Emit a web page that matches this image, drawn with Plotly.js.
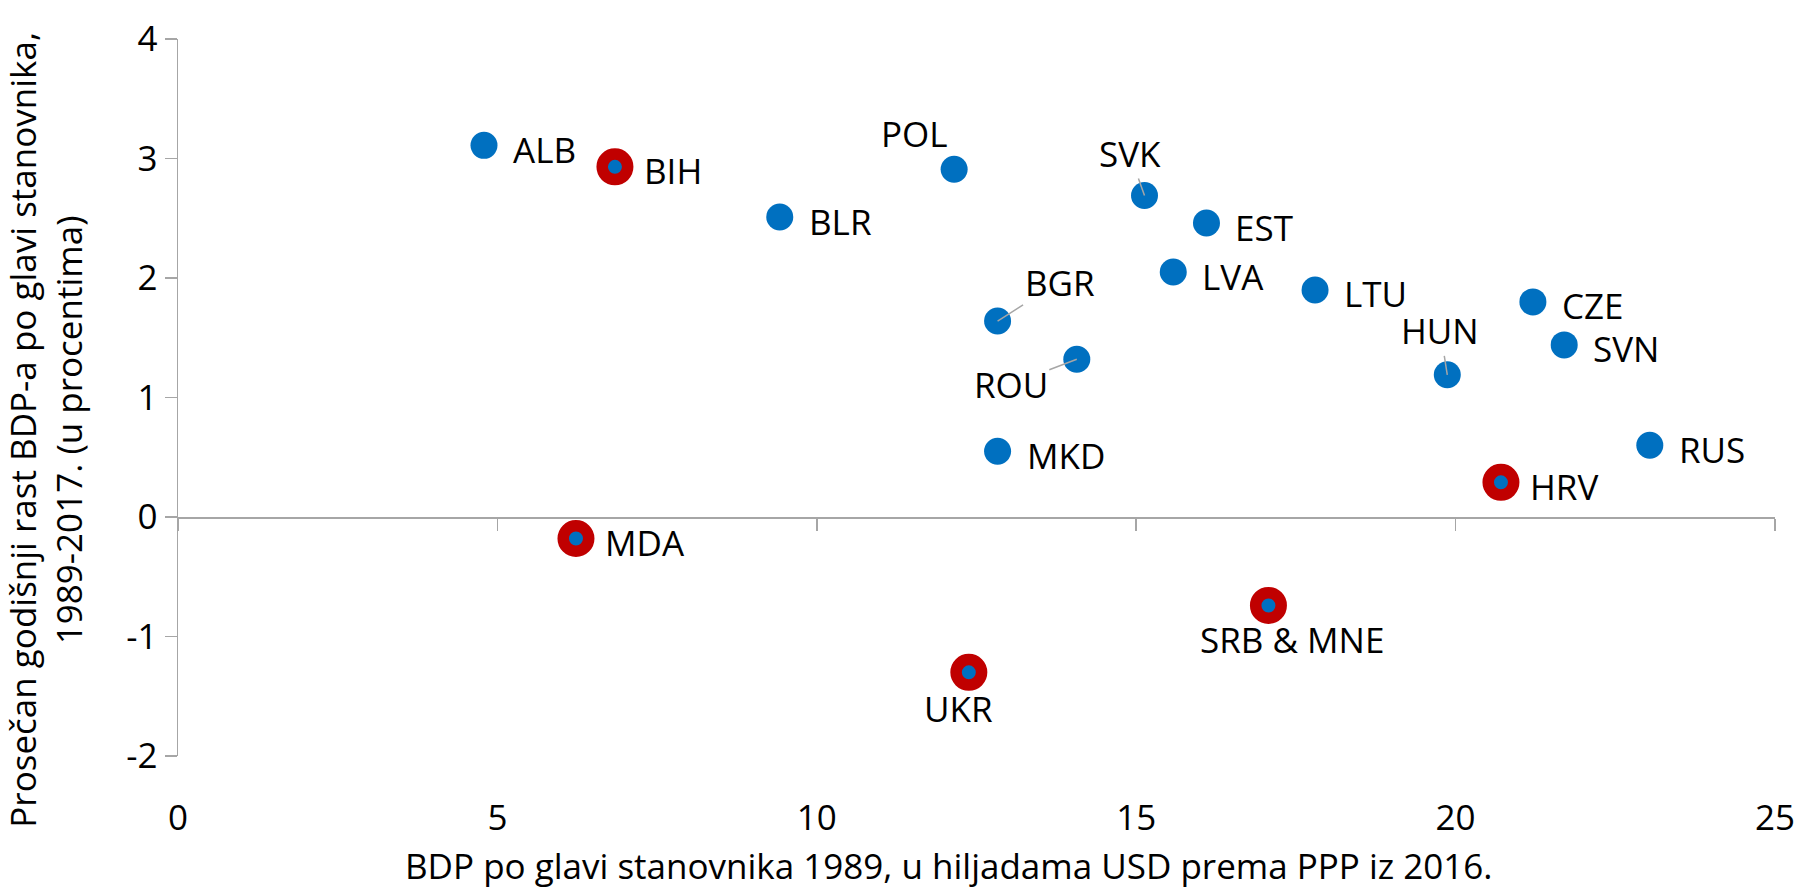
<!DOCTYPE html>
<html>
<head>
<meta charset="utf-8">
<script src="https://cdn.plot.ly/plotly-3.0.1.min.js"></script>
<style>html,body{margin:0;padding:0;background:#fff}#chart{width:1798px;height:892px}</style>
</head>
<body>
<div id="chart"></div>
<script>
// ---- data ----
const countries = ["ALB","BIH","POL","BLR","SVK","EST","LVA","LTU","CZE","SVN","BGR","ROU","HUN","MKD","RUS","HRV","MDA","SRB & MNE","UKR"];
const gdp1989   = [4.79, 6.84, 12.15, 9.42, 15.13, 16.10, 15.58, 17.80, 21.21, 21.70, 12.83, 14.07, 19.87, 12.83, 23.04, 20.71, 6.23, 17.07, 12.38];
const growth    = [3.11, 2.93, 2.91, 2.51, 2.69, 2.46, 2.05, 1.90, 1.80, 1.44, 1.64, 1.32, 1.19, 0.55, 0.60, 0.29, -0.18, -0.74, -1.30];
const highlighted = ["BIH","HRV","MDA","SRB & MNE","UKR"];
const xTickVals = [0, 5, 10, 15, 20, 25];
const yTickVals = [-2, -1, 0, 1, 2, 3, 4];
const xTitle = "BDP po glavi stanovnika 1989, u hiljadama USD prema PPP iz 2016.";
const yTitle = "Prosečan godišnji rast BDP-a po glavi stanovnika,<br>1989-2017. (u procentima)";

// ---- label placement (pixels, style only) ----
const labelPlace = {
  "POL": {type:"c", dx:-40, dy:-36},
  "SVK": {type:"a", dx:-15, dy:-42},
  "BGR": {type:"a", dx:62, dy:-39},
  "ROU": {type:"a", dx:-66, dy:25},
  "HUN": {type:"a", dx:-7, dy:-44},
  "SRB & MNE": {type:"c", dx:24, dy:34},
  "UKR": {type:"c", dx:-10, dy:36}
};

const BLUE = "#0070C0", RED = "#C00000", AXIS = "#A6A6A6";
const FONT = "Open Sans, Noto Sans, sans-serif";
const FS = 35;

const nx = [], ny = [], hx = [], hy = [];
countries.forEach((c, i) => {
  if (highlighted.includes(c)) { hx.push(gdp1989[i]); hy.push(growth[i]); }
  else { nx.push(gdp1989[i]); ny.push(growth[i]); }
});

const traces = [
  {x: nx, y: ny, type: "scatter", mode: "markers", xaxis: "x", yaxis: "y",
   marker: {color: BLUE, size: 27, line: {width: 0}}, hoverinfo: "skip"},
  {x: hx, y: hy, type: "scatter", mode: "markers", xaxis: "x2", yaxis: "y",
   marker: {color: BLUE, size: 25.5, line: {color: RED, width: 11.5}}, hoverinfo: "skip"}
];

const annotations = countries.map((c, i) => {
  const p = labelPlace[c];
  const base = {x: gdp1989[i], y: growth[i], xref: "x", yref: "y", text: c,
    font: {family: FONT, size: FS, color: "#000"}};
  if (!p) {
    return Object.assign(base, {showarrow: false, xanchor: "left", yanchor: "middle", xshift: 27, yshift: -4});
  }
  if (p.type === "c") {
    return Object.assign(base, {showarrow: false, xanchor: "center", yanchor: "middle", xshift: p.dx, yshift: -p.dy});
  }
  return Object.assign(base, {showarrow: true, arrowhead: 0, arrowwidth: 1.5, arrowcolor: AXIS,
    ax: p.dx, ay: p.dy, standoff: 0, startstandoff: 0});
});

annotations.push({xref: "paper", yref: "paper", x: 0.483, y: -0.1534, xanchor: "center", yanchor: "middle",
  text: xTitle, showarrow: false, font: {family: FONT, size: FS, color: "#000"}});
annotations.push({xref: "paper", yref: "paper", x: -0.0827, y: 0.455, xanchor: "center", yanchor: "middle",
  text: yTitle, textangle: -90, showarrow: false, font: {family: FONT, size: FS, color: "#000"}});

const layout = {
  width: 1798, height: 892,
  margin: {l: 178, r: 23, t: 39, b: 136},
  paper_bgcolor: "#fff", plot_bgcolor: "#fff",
  showlegend: false, hovermode: false,
  font: {family: FONT, size: FS, color: "#000"},
  xaxis: {range: [0, 25], tickvals: xTickVals, ticktext: xTickVals.map(String),
    showline: false, showgrid: false, zeroline: false, ticks: "",
    ticklabelstandoff: 38, tickfont: {family: FONT, size: FS, color: "#000"}, fixedrange: true},
  xaxis2: {range: [0, 25], tickvals: xTickVals, overlaying: "x", anchor: "free", position: 1/3, side: "bottom",
    showline: true, linecolor: AXIS, linewidth: 1.5, ticks: "outside", ticklen: 12, tickwidth: 1.5, tickcolor: AXIS,
    showticklabels: false, showgrid: false, zeroline: false, fixedrange: true},
  yaxis: {range: [-2, 4], tickvals: yTickVals, ticktext: yTickVals.map(String),
    showline: true, linecolor: AXIS, linewidth: 1.5, ticks: "outside", ticklen: 12, tickwidth: 1.5, tickcolor: AXIS,
    showgrid: false, zeroline: false, tickfont: {family: FONT, size: FS, color: "#000"}, fixedrange: true},
  annotations: annotations
};

Plotly.newPlot("chart", traces, layout, {displayModeBar: false, staticPlot: true});
</script>
</body>
</html>
